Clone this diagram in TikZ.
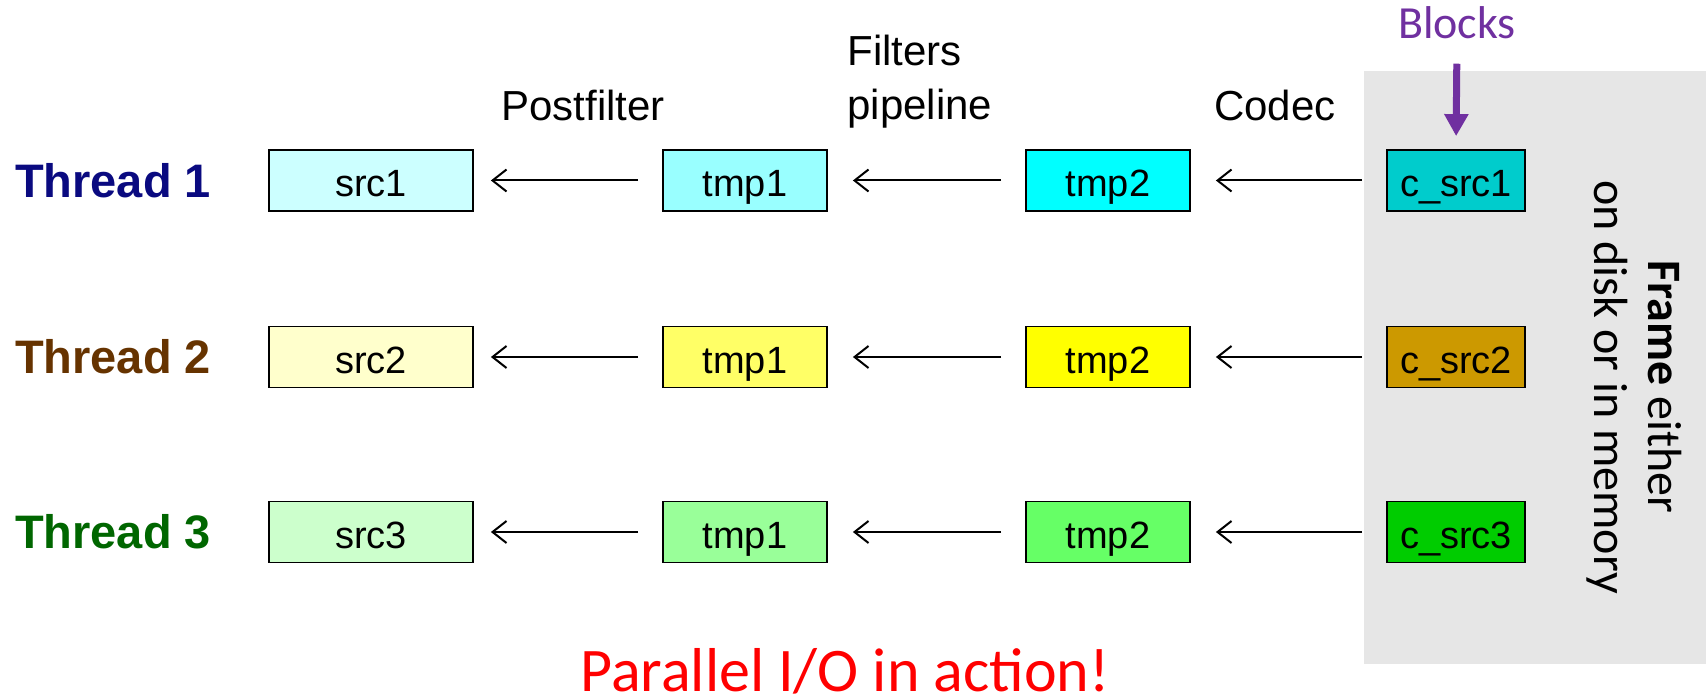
\documentclass[tikz,border=0pt]{standalone}
\usepackage{fontspec}
\setmainfont{Liberation Sans}
\newfontfamily\carl{Carlito}
\usetikzlibrary{arrows.meta}
\definecolor{gbg}{HTML}{E6E6E6}
\definecolor{purp}{HTML}{7030A0}
\definecolor{thA}{HTML}{0A0A80}
\definecolor{thB}{HTML}{663300}
\definecolor{thC}{HTML}{006600}
\definecolor{sA}{HTML}{CCFFFF}
\definecolor{tA}{HTML}{99FFFF}
\definecolor{uA}{HTML}{00FFFF}
\definecolor{cA}{HTML}{00CCCC}
\definecolor{sB}{HTML}{FFFFCC}
\definecolor{tB}{HTML}{FFFF66}
\definecolor{uB}{HTML}{FFFF00}
\definecolor{cB}{HTML}{CC9900}
\definecolor{sC}{HTML}{CCFFCC}
\definecolor{tC}{HTML}{99FF99}
\definecolor{uC}{HTML}{66FF66}
\definecolor{cC}{HTML}{00CC00}
\begin{document}
\begin{tikzpicture}[x=0.5pt,y=-0.5pt,
  box/.style={draw=black, line width=0.9pt, minimum height=30.5pt, inner sep=0pt,
    text height=20pt, text depth=4pt, font=\fontsize{19}{22}\selectfont},
  srcbox/.style={box, minimum width=102pt},
  tmpbox/.style={box, minimum width=82pt},
  cbox/.style={box, minimum width=69pt},
  arr/.style={line width=1pt, -{Straight Barb[length=7pt,width=11pt]}, shorten <=12pt, shorten >=12.5pt},
  thr/.style={font=\bfseries\fontsize{23.5}{28}\selectfont, inner sep=0pt},
  lbl/.style={font=\fontsize{21}{27}\selectfont, inner sep=0pt},
]
\useasboundingbox (0,0) rectangle (1706,700);
\node[fill=gbg, inner sep=0pt, minimum width=171pt, minimum height=296.5pt, anchor=north west] (frame) at (1364,71) {};

% labels
\node[lbl, anchor=base] (pf) at (583,121) {Postfilter};
\node[lbl, anchor=base west, align=left] (fp) at (847,120) {Filters\\pipeline};
\node[lbl, anchor=base] (cd) at (1275,121) {Codec};

% row 1
\node[thr, text=thA] (th1) at (113,180.5) {Thread 1};
\node[srcbox, fill=sA] (s1) at (371,180.5) {src1};
\node[tmpbox, fill=tA] (a1) at (745,180.5) {tmp1};
\node[tmpbox, fill=uA] (b1) at (1108,180.5) {tmp2};
\node[cbox, fill=cA] (c1) at (1456,180.5) {c\_src1};
% row 2
\node[thr, text=thB] (th2) at (113,357) {Thread 2};
\node[srcbox, fill=sB] (s2) at (371,357) {src2};
\node[tmpbox, fill=tB] (a2) at (745,357) {tmp1};
\node[tmpbox, fill=uB] (b2) at (1108,357) {tmp2};
\node[cbox, fill=cB] (c2) at (1456,357) {c\_src2};
% row 3
\node[thr, text=thC] (th3) at (113,532) {Thread 3};
\node[srcbox, fill=sC] (s3) at (371,532) {src3};
\node[tmpbox, fill=tC] (a3) at (745,532) {tmp1};
\node[tmpbox, fill=uC] (b3) at (1108,532) {tmp2};
\node[cbox, fill=cC] (c3) at (1456,532) {c\_src3};

\foreach \r in {1,2,3}{
  \draw[arr, shorten >=8.5pt] (a\r) -- (s\r);
  \draw[arr] (b\r) -- (a\r);
  \draw[arr] (c\r) -- (b\r);
}

% blocks
\node[font=\carl\fontsize{23}{27}\selectfont, text=purp, anchor=base, inner sep=0pt] (blk) at (1457,39) {Blocks};
\draw[purp, line width=3.5pt, -{Triangle[length=11pt,width=11.5pt]}, shorten <=12pt, shorten >=6.5pt] (blk.south) -- (c1.north);

% frame text
\node[rotate=-90, align=center, font=\carl\fontsize{24}{27}\selectfont, inner sep=0pt] (ft) at (1634,387) {\textbf{Frame} either\\on disk or in memory};

% bottom
\node[font=\carl\fontsize{31}{36}\selectfont, text=red, anchor=base, inner sep=0pt] (par) at (845,691) {Parallel I/O in action!};
\end{tikzpicture}
\end{document}
